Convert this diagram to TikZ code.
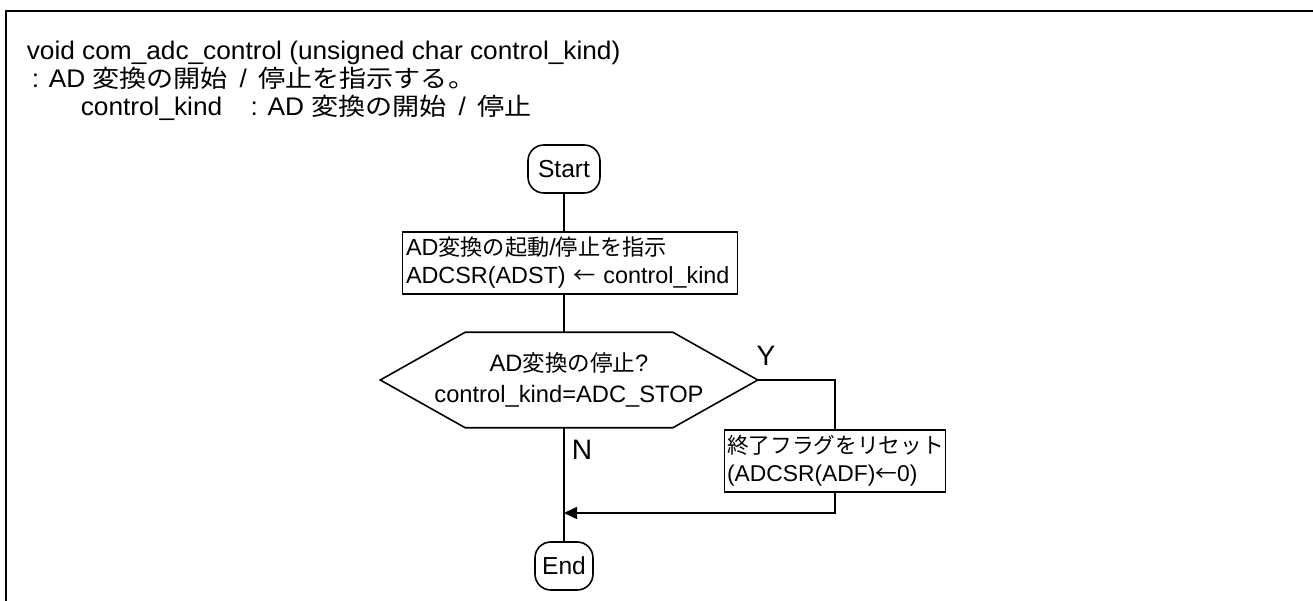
\documentclass[tikz,border=0pt]{standalone}
\usepackage{fontspec}
\setmainfont{Liberation Sans}
\newfontfamily\jafont{Noto Sans CJK JP}[Scale=0.95]
\newfontfamily\entetefont{Liberation Sans}[FakeStretch=1.03]
\newfontfamily\jaentetefont{Noto Sans CJK JP}[Scale=0.95,FakeStretch=1.12]
\newcommand{\ja}[1]{{\jafont #1}}
\newcommand{\jae}[1]{{\jaentetefont #1}}
\usetikzlibrary{arrows.meta}
\usetikzlibrary{positioning}

\begin{document}
\begin{tikzpicture}[x=0.02cm,y=-0.02cm,line width=0.9pt,
	terminal/.style={rectangle,draw,rounded corners=9pt,inner sep=0pt,minimum height=0.96cm,font=\fontsize{14}{16}\selectfont},
	traitement/.style={rectangle,draw,align=left,inner sep=2pt,minimum height=1.24cm,font=\fontsize{13.3}{15.9}\selectfont},
	entete/.style={anchor=base west,inner sep=0pt,font=\fontsize{14.5}{16}\entetefont},
	etiquette/.style={inner sep=0pt,font=\fontsize{16}{16}\selectfont}]
	\useasboundingbox (0,0) rectangle (1313,601);
	% cadre
	\draw[line width=1.3pt] (6,601) -- (6,11) -- (1313,11);
	% en-tete de la fonction
	\node (ENTETE1) at (26,60) [entete] {void com\_adc\_control (unsigned char control\_kind)};
	\node (ENTETE2) at (31,88) [entete] {: AD \jae{変換の開始}\hspace{0.45em}/\hspace{0.45em}\jae{停止を指示する。}};
	\node (ENTETE3) at (80,116) [entete] {\makebox[3.4cm][l]{control\_kind}: AD \jae{変換の開始}\hspace{0.45em}/\hspace{0.45em}\jae{停止}};
	% noeuds de l'organigramme
	\node (DEBUT) at (564,169) [terminal,minimum width=1.44cm] {Start};
	\node (TRAIT1) at (570,263) [traitement,text width=6.56cm] {AD\ja{変換の起動}/\ja{停止を指示}\\ADCSR(ADST) \ja{←} control\_kind};
	\node (DEC) at (569,380) [minimum width=7.52cm,minimum height=1.88cm,inner sep=0pt,align=center,font=\fontsize{13.5}{18}\selectfont] {AD\ja{変換の停止}?\\control\_kind=ADC\_STOP};
	\draw (DEC.west) -- ([xshift=1.7cm]DEC.north west) -- ([xshift=-1.7cm]DEC.north east) -- (DEC.east) -- ([xshift=-1.7cm]DEC.south east) -- ([xshift=1.7cm]DEC.south west) -- cycle;
	\node (RAZ) at (835,461) [traitement,inner sep=1.5pt,text width=4.32cm,font=\fontsize{13}{15.9}\selectfont] {\ja{終了フラグをリセット}\\(ADCSR(ADF)\ja{←}0)};
	\node (FIN) at (564,566) [terminal,minimum width=1.16cm] {End};
	\node (OUI) at (766,356) [etiquette] {Y};
	\node (NON) at (582,450) [etiquette] {N};
	\coordinate (JONCTION) at (564,513);
	% liaisons
	\draw (DEBUT) -- (DEBUT |- TRAIT1.north);
	\draw (TRAIT1.south -| DEBUT) -- (DEBUT |- DEC.north);
	\draw (DEC.south -| DEBUT) -- (FIN);
	\draw (DEC.east) -| (RAZ.north);
	\draw[-{Triangle[length=0.26cm,width=0.24cm]}] (RAZ.south) |- (JONCTION);
\end{tikzpicture}
\end{document}
